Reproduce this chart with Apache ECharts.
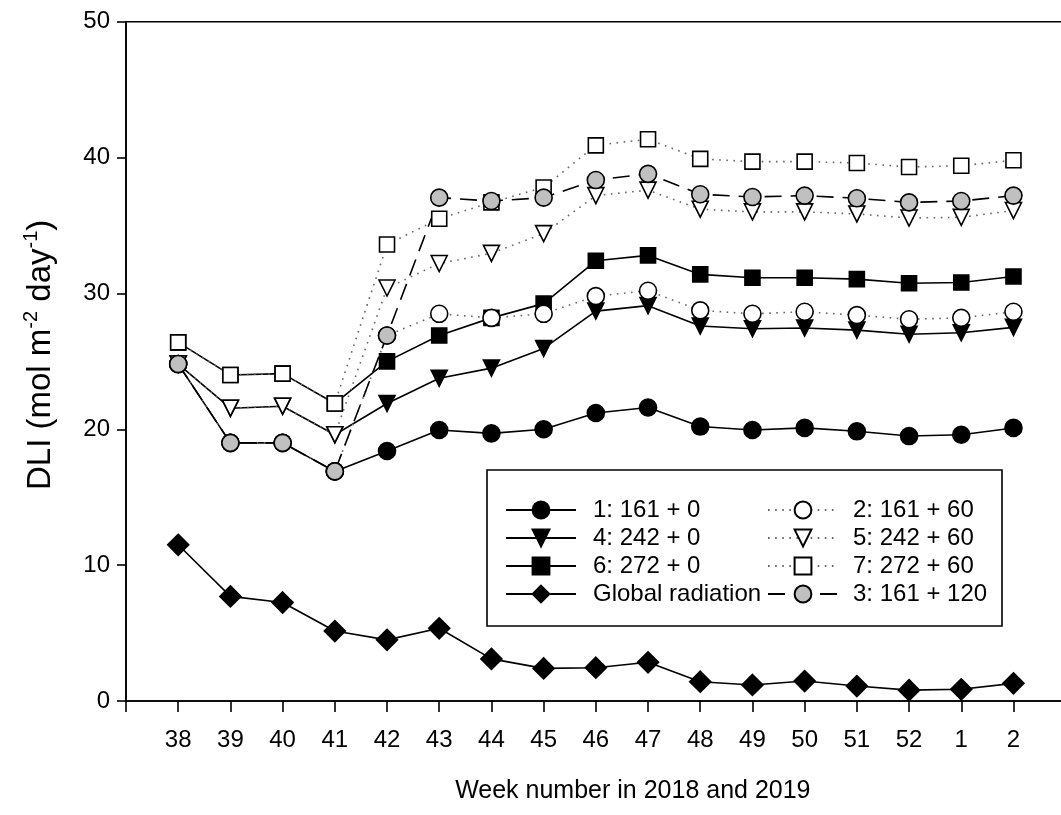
<!DOCTYPE html>
<html>
<head>
<meta charset="utf-8">
<script src="https://cdn.jsdelivr.net/npm/echarts@6/dist/echarts.min.js"></script>
<style>
html,body{margin:0;padding:0;background:#fff;overflow:hidden;width:1061px;height:815px;}
#chart{width:1072px;height:815px;}
</style>
</head>
<body>
<div id="chart"></div>
<script>
const weeks = ['38','39','40','41','42','43','44','45','46','47','48','49','50','51','52','1','2'];
const s1_161_0   = [24.8,19.0,19.0,16.9,18.4,19.95,19.7,20.0,21.2,21.6,20.2,19.95,20.1,19.85,19.5,19.6,20.1];
const s2_161_60  = [24.8,19.0,19.0,16.9,26.9,28.5,28.2,28.5,29.8,30.2,28.75,28.5,28.65,28.4,28.1,28.2,28.65];
const s3_161_120 = [24.8,19.0,19.0,16.9,26.9,37.05,36.8,37.05,38.35,38.8,37.3,37.1,37.2,37.0,36.7,36.8,37.2];
const s4_242_0   = [24.8,21.55,21.7,19.6,21.9,23.75,24.5,25.95,28.7,29.1,27.6,27.4,27.45,27.3,27.0,27.1,27.5];
const s5_242_60  = [24.8,21.55,21.7,19.6,30.4,32.2,32.95,34.4,37.2,37.6,36.2,36.0,36.0,35.85,35.55,35.6,36.1];
const s6_272_0   = [26.4,24.0,24.1,21.9,25.0,26.9,28.2,29.25,32.4,32.8,31.4,31.15,31.15,31.05,30.75,30.8,31.25];
const s7_272_60  = [26.4,24.0,24.1,21.9,33.6,35.5,36.7,37.8,40.9,41.35,39.9,39.7,39.7,39.6,39.3,39.4,39.8];
const globalRad  = [11.5,7.7,7.25,5.15,4.5,5.35,3.1,2.4,2.45,2.85,1.42,1.18,1.47,1.1,0.8,0.86,1.3];
const yTicks = [0,10,20,30,40,50];

const FONT = 'Liberation Sans, Arial, sans-serif';
const xCats = [''].concat(weeks).concat([' ']);
const pairs = arr => weeks.map((w,i)=>[w, arr[i]]);

const solid = {color:'#000', width:1.6, type:'solid'};
const dotted = {color:'#666', width:1.6, type:[1.6,5.5]};
const dashed = {color:'#000', width:1.6, type:[17,9]};

function mk(name, data, symbol, size, fill, line, rot){
  return {
    name, type:'line', data:pairs(data), symbol, symbolSize:size, symbolRotate:rot||0,
    itemStyle:{color:fill, borderColor:'#000', borderWidth:1.6},
    lineStyle:line, emphasis:{disabled:true}, silent:true, animation:false
  };
}

const legendText = {fontSize:24, fontFamily:FONT, color:'#000', lineHeight:24};

const chart = echarts.init(document.getElementById('chart'), null, {renderer:'canvas'});
chart.setOption({
  animation:false,
  backgroundColor:'#fff',
  grid:{left:126, right:2.8, top:21.7, bottom:114, show:true, borderColor:'#000', borderWidth:1.6, backgroundColor:'transparent'},
  xAxis:{
    type:'category', data:xCats, boundaryGap:false,
    axisLine:{lineStyle:{color:'#000', width:1.6}},
    axisTick:{inside:false, length:11, interval:0, lineStyle:{color:'#000', width:1.6}},
    axisLabel:{interval:0, fontSize:24, fontFamily:FONT, color:'#000', margin:27},
    splitLine:{show:false},
    name:'Week number in 2018 and 2019', nameLocation:'middle', nameGap:78,
    nameTextStyle:{fontSize:25, fontFamily:FONT, color:'#000', padding:[0,0,0,74]}
  },
  yAxis:{
    type:'value', min:yTicks[0], max:yTicks[yTicks.length-1], interval:10,
    axisLine:{show:true, lineStyle:{color:'#000', width:1.6}},
    axisTick:{show:true, inside:false, length:9, lineStyle:{color:'#000', width:1.6}},
    axisLabel:{fontSize:24, fontFamily:FONT, color:'#000', margin:16},
    splitLine:{show:false},
    name:'DLI (mol m{sup|-2} day{sup|-1})', nameLocation:'middle', nameGap:65, nameRotate:90,
    nameTextStyle:{fontSize:33, fontFamily:FONT, color:'#000', lineHeight:40, padding:[0,0,0,13],
      rich:{sup:{fontSize:20, fontFamily:FONT, color:'#000', verticalAlign:'top', lineHeight:22}}}
  },
  legend:[
    {data:['1: 161 + 0','4: 242 + 0','6: 272 + 0','Global radiation'], orient:'vertical',
     left:500, top:493, itemWidth:70, itemHeight:21, itemGap:4, selectedMode:false,
     textStyle:Object.assign({padding:[0,0,0,12]}, legendText)},
    {data:['2: 161 + 60','5: 242 + 60','7: 272 + 60','3: 161 + 120'], orient:'vertical',
     left:762, top:493, itemWidth:70, itemHeight:21, itemGap:4, selectedMode:false,
     textStyle:Object.assign({padding:[0,0,0,10]}, legendText)}
  ],
  graphic:[{type:'rect', shape:{x:487, y:470, width:515, height:156},
    style:{fill:null, stroke:'#000', lineWidth:1.6}, z:0, silent:true}],
  series:[
    mk('Global radiation', globalRad, 'diamond', 21, '#000', solid),
    mk('1: 161 + 0', s1_161_0, 'circle', 17, '#000', solid),
    mk('4: 242 + 0', s4_242_0, 'triangle', 16, '#000', solid, 180),
    mk('6: 272 + 0', s6_272_0, 'rect', 15, '#000', solid),
    mk('2: 161 + 60', s2_161_60, 'circle', 17, '#fff', dotted),
    mk('5: 242 + 60', s5_242_60, 'triangle', 16, '#fff', dotted, 180),
    mk('7: 272 + 60', s7_272_60, 'rect', 15, '#fff', dotted),
    mk('3: 161 + 120', s3_161_120, 'circle', 17, '#c0c0c0', dashed)
  ]
});
</script>
</body>
</html>
